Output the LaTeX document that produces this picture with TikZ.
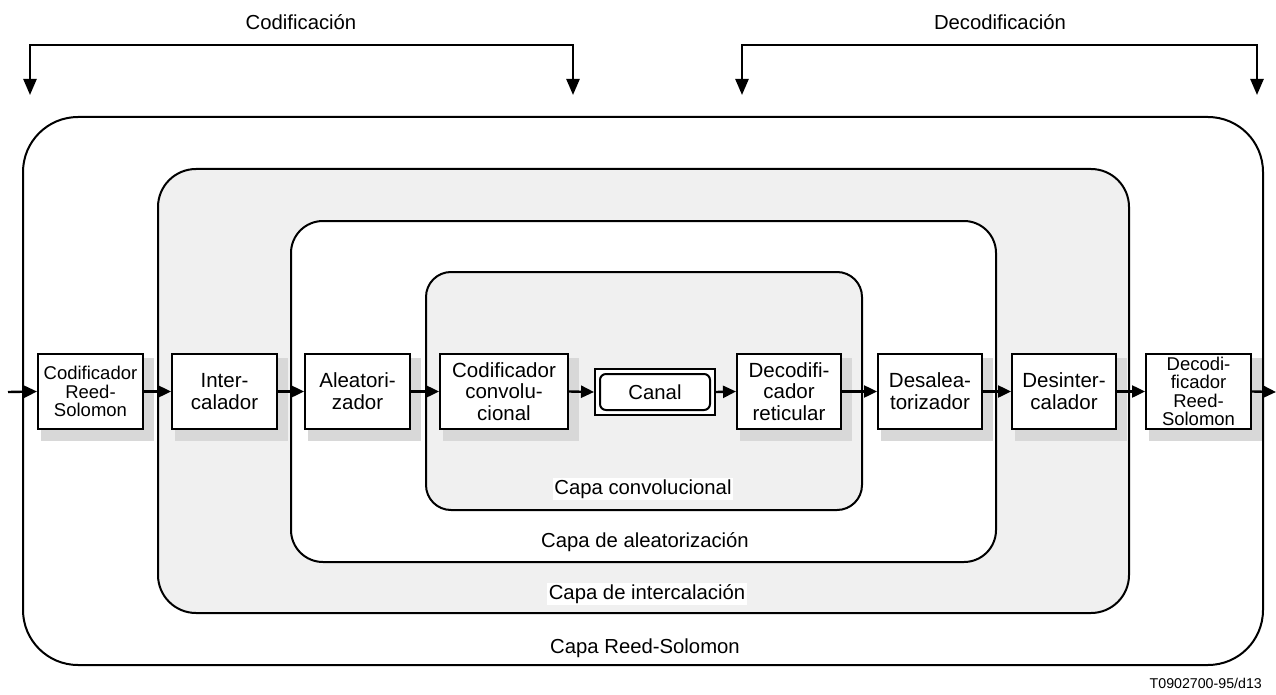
\documentclass[tikz,border=0pt]{standalone}
\usepackage{fontspec}
\setmainfont{Liberation Sans}
\usetikzlibrary{arrows.meta}
\definecolor{layergray}{HTML}{F0F0F0}
\definecolor{shadowgray}{HTML}{D8D8D8}
\pgfdeclarelayer{base}
\pgfdeclarelayer{shade}
\pgfsetlayers{base,shade,main}
\tikzset{
  layer/.style={draw=black,line width=2pt},
  blockbox/.style={draw=black,line width=2pt,fill=white,minimum height=75pt,
    align=center,inner sep=0pt,font=\fontsize{20.5}{21.7}\selectfont},
  rsbox/.style={blockbox,font=\fontsize{18.5}{18.3}\selectfont},
  flow/.style={line width=2.4pt,-{Triangle[length=13pt,width=12pt]}},
  span/.style={line width=2.4pt,{Triangle[length=16pt,width=13pt]}-{Triangle[length=16pt,width=13pt]}},
  lbl/.style={font=\fontsize{20.3}{22}\selectfont,inner sep=1.5pt},
}
\newcommand{\boxshadow}[1]{%
  \fill[shadowgray] ([shift={(4,5)}]#1.north west) rectangle ([shift={(10,11)}]#1.south east);}
\begin{document}
\begin{tikzpicture}[x=1pt,y=-1pt]
\useasboundingbox (0,0) rectangle (1276,695);

% nested layers
\begin{pgfonlayer}{base}
\draw[layer,fill=white,rounded corners=55pt] (23,117) rectangle (1263,665);
\draw[layer,fill=layergray,rounded corners=38pt] (158,169) rectangle (1129,613);
\draw[layer,fill=white,rounded corners=32pt] (291,221) rectangle (996,562);
\draw[layer,fill=layergray,rounded corners=25pt] (426,272) rectangle (862,510);
\end{pgfonlayer}

% processing blocks
\node[rsbox,minimum width=105pt] (rsenc) at (90.5,391.5) {Codificador\\Reed-\\Solomon};
\node[blockbox,minimum width=105pt] (inter) at (224.5,391.5) {Inter-\\calador};
\node[blockbox,minimum width=105pt] (rand) at (357.5,391.5) {Aleatori-\\zador};
\node[blockbox,minimum width=128pt] (conv) at (504,391.5) {Codificador\\convolu-\\cional};
\node[blockbox,minimum width=104pt] (trel) at (789,391.5) {Decodifi-\\cador\\reticular};
\node[blockbox,minimum width=104pt] (derand) at (930,391.5) {Desalea-\\torizador};
\node[blockbox,minimum width=104pt] (deint) at (1064,391.5) {Desinter-\\calador};
\node[rsbox,minimum width=105pt] (rsdec) at (1198.5,391.5) {Decodi-\\ficador\\Reed-\\Solomon};

% drop shadows behind the blocks
\begin{pgfonlayer}{shade}
\foreach \b in {rsenc,inter,rand,conv,trel,derand,deint,rsdec}{\boxshadow{\b}}
\end{pgfonlayer}

% channel
\node[draw=black,line width=2pt,fill=white,minimum width=120pt,minimum height=46pt,inner sep=0pt] (canal) at (655,392) {};
\node[draw=black,line width=2pt,rounded corners=6pt,minimum width=110pt,minimum height=36pt,
  inner sep=0pt,font=\fontsize{20.3}{22}\selectfont] (canalin) at (canal) {Canal};

% signal flow
\coordinate (in) at (8,392);
\coordinate (out) at (1276,392);
\draw[flow] (in) -- (rsenc.west);
\draw[flow] (rsenc.east) -- (inter.west);
\draw[flow] (inter.east) -- (rand.west);
\draw[flow] (rand.east) -- (conv.west);
\draw[flow] (conv.east) -- (canal.west);
\draw[flow] (canal.east) -- (trel.west);
\draw[flow] (trel.east) -- (derand.west);
\draw[flow] (derand.east) -- (deint.west);
\draw[flow] (deint.east) -- (rsdec.west);
\draw[flow] (rsdec.east) -- (out);

% layer captions
\node[lbl,fill=white] (lconv) at (643,489) {Capa convolucional};
\node[lbl] (lrand) at (645,542) {Capa de aleatorizaci\'on};
\node[lbl,fill=white] (lint) at (647,594) {Capa de intercalaci\'on};
\node[lbl] (lrs) at (645,648) {Capa Reed-Solomon};

% coding / decoding spans
\node[lbl] (cod) at (301,22) {Codificaci\'on};
\node[lbl] (dec) at (1000,22) {Decodificaci\'on};
\coordinate (c1) at (30,95);
\coordinate (c2) at (573,95);
\coordinate (d1) at (742,95);
\coordinate (d2) at (1257,95);
\draw[span] (c1) -- (c1 |- 0,45) -- (c2 |- 0,45) -- (c2);
\draw[span] (d1) -- (d1 |- 0,45) -- (d2 |- 0,45) -- (d2);

\node[anchor=east,font=\fontsize{14.2}{16}\selectfont,inner sep=0pt] (ref) at (1262,683) {T0902700-95/d13};
\end{tikzpicture}
\end{document}
